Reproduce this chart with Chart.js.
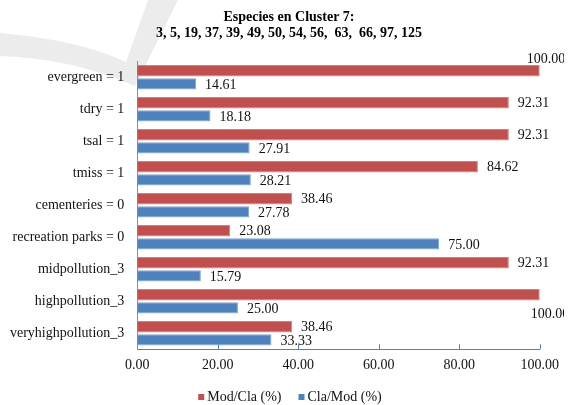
<!DOCTYPE html>
<html>
<head>
<meta charset="utf-8">
<script src="https://cdn.jsdelivr.net/npm/chart.js@4/dist/chart.umd.min.js"></script>
<style>
    html, body { margin: 0; padding: 0; background: #ffffff; }
    #wrap { width: 572px; height: 405px; position: relative; }
</style>
</head>
<body>
<div id="wrap"><canvas id="clusterChart"></canvas></div>
<script>
// Chart data
const categories = [
    'evergreen = 1',
    'tdry = 1',
    'tsal = 1',
    'tmiss = 1',
    'cementeries = 0',
    'recreation parks = 0',
    'midpollution_3',
    'highpollution_3',
    'veryhighpollution_3'
];
const modCla = [100.00, 92.31, 92.31, 84.62, 38.46, 23.08, 92.31, 100.00, 38.46];
const claMod = [14.61, 18.18, 27.91, 28.21, 27.78, 75.00, 15.79, 25.00, 33.33];
const seriesNames = ['Mod/Cla (%)', 'Cla/Mod (%)'];
const titleLines = ['Especies en Cluster 7:', '3, 5, 19, 37, 39, 49, 50, 54, 56,  63,  66, 97, 125'];
const xTicks = [0, 20, 40, 60, 80, 100];

const RED = '#c0504d';
const BLUE = '#4f81bd';
const SERIF = '"Liberation Serif", "Times New Roman", serif';

// Faint check-mark watermark behind the chart
const watermark = {
    id: 'watermark',
    beforeDraw(chart) {
        const ctx = chart.ctx;
        ctx.save();
        ctx.fillStyle = '#ececec';
        ctx.beginPath();
        ctx.moveTo(0, 33);
        ctx.quadraticCurveTo(80, 40, 126, 62);
        ctx.lineTo(148, 0);
        ctx.lineTo(178, 0);
        ctx.lineTo(135, 86);
        ctx.quadraticCurveTo(70, 58, 0, 56);
        ctx.closePath();
        ctx.fill();
        ctx.restore();
    }
};

// Title, legend, value labels and inner axis ticks
const decorations = {
    id: 'decorations',
    afterDatasetsDraw(chart) {
        const ctx = chart.ctx;
        const xScale = chart.scales.x;
        const area = chart.chartArea;

        // small ticks pointing up from the x axis
        ctx.save();
        ctx.strokeStyle = BLUE;
        ctx.lineWidth = 1;
        xTicks.slice(1).forEach(v => {
            const px = Math.round(xScale.getPixelForValue(v)) + 0.5;
            ctx.beginPath();
            ctx.moveTo(px, area.bottom);
            ctx.lineTo(px, area.bottom - 5);
            ctx.stroke();
        });
        ctx.restore();

        // value labels next to bar ends; full-length bars get nudged labels
        // and the outer frame cuts off whatever runs past it
        const overflowNudge = { 0: [-13, -11], 7: [-9, 20] };
        ctx.save();
        ctx.beginPath();
        ctx.rect(0, 0, 564, chart.height);
        ctx.clip();
        ctx.font = '14px ' + SERIF;
        ctx.fillStyle = '#111111';
        ctx.textBaseline = 'middle';
        ctx.textAlign = 'left';
        chart.data.datasets.forEach((ds, di) => {
            const meta = chart.getDatasetMeta(di);
            meta.data.forEach((bar, i) => {
                let dx = 9, dy = 1;
                if (di === 0 && overflowNudge[i]) {
                    dx = overflowNudge[i][0];
                    dy = overflowNudge[i][1];
                }
                ctx.fillText(ds.data[i].toFixed(2), bar.x + dx, bar.y + dy);
            });
        });
        ctx.restore();
    },
    afterDraw(chart) {
        const ctx = chart.ctx;
        ctx.save();

        // title
        ctx.fillStyle = '#000000';
        ctx.font = 'bold 14px ' + SERIF;
        ctx.textAlign = 'center';
        ctx.textBaseline = 'middle';
        ctx.fillText(titleLines[0], 289, 17);
        ctx.fillText(titleLines[1], 289, 33.5);

        // legend
        ctx.font = '14px ' + SERIF;
        ctx.textAlign = 'left';
        const colors = [RED, BLUE];
        const widths = seriesNames.map(n => ctx.measureText(n).width);
        const total = widths[0] + widths[1] + 2 * 9 + 17;
        let x = 290 - total / 2;
        seriesNames.forEach((name, i) => {
            ctx.fillStyle = colors[i];
            ctx.fillRect(x, 394, 6, 6);
            ctx.fillStyle = '#111111';
            ctx.fillText(name, x + 9, 397.5);
            x += 9 + widths[i] + 17;
        });
        ctx.restore();
    }
};

const ctx = document.getElementById('clusterChart').getContext('2d');
const clusterChart = new Chart(ctx, {
    type: 'bar',
    data: {
        labels: categories,
        datasets: [
            {
                label: seriesNames[0],
                data: modCla,
                backgroundColor: RED,
                borderColor: '#d2807e',
                borderWidth: { top: 1, right: 1, bottom: 1, left: 0 },
                borderSkipped: 'start',
                categoryPercentage: 0.82,
                barPercentage: 0.86
            },
            {
                label: seriesNames[1],
                data: claMod,
                backgroundColor: BLUE,
                borderColor: '#7fa3cf',
                borderWidth: { top: 1, right: 1, bottom: 1, left: 0 },
                borderSkipped: 'start',
                categoryPercentage: 0.82,
                barPercentage: 0.86
            }
        ]
    },
    options: {
        indexAxis: 'y',
        responsive: true,
        maintainAspectRatio: false,
        animation: false,
        events: [],
        layout: {
            padding: { top: 61.3, right: 32.2, bottom: 0, left: 0 }
        },
        plugins: {
            legend: { display: false },
            title: { display: false },
            tooltip: { enabled: false }
        },
        scales: {
            x: {
                min: 0,
                max: 100,
                grid: { display: false, drawTicks: false },
                border: { display: true, color: BLUE, width: 1 },
                ticks: {
                    stepSize: 20,
                    padding: 8,
                    color: '#111111',
                    font: { family: SERIF, size: 14 },
                    callback: v => Number(v).toFixed(2)
                },
                afterFit: scale => { scale.height = 405 - 349.3; }
            },
            y: {
                grid: { display: false, drawTicks: false },
                border: { display: true, color: '#8c8c8c', width: 1 },
                ticks: {
                    padding: 13,
                    color: '#111111',
                    font: { family: SERIF, size: 14 }
                },
                afterFit: scale => { scale.width = 137.3; }
            }
        }
    },
    plugins: [watermark, decorations]
});
</script>
</body>
</html>
